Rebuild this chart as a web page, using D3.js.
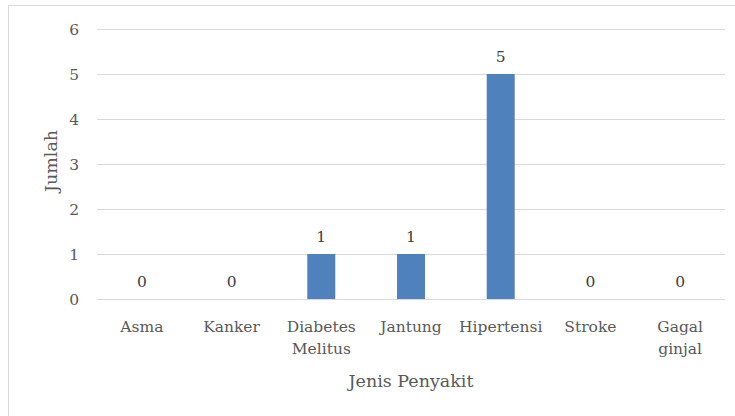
<!DOCTYPE html>
<html><head><meta charset="utf-8">
<script src="https://cdn.jsdelivr.net/npm/d3@7"></script>
<style>body{margin:0;background:#fff}svg{display:block}</style>
</head><body>
<script>
const categories = ["Asma","Kanker","Diabetes Melitus","Jantung","Hipertensi","Stroke","Gagal ginjal"];
const labelLines = [["Asma"],["Kanker"],["Diabetes","Melitus"],["Jantung"],["Hipertensi"],["Stroke"],["Gagal","ginjal"]];
const values = [0,0,1,1,5,0,0];
const yTicks = [0,1,2,3,4,5,6];

const W = 735, H = 416;
const font = "'DejaVu Serif',serif";
const txt = "#595959";
const svg = d3.select("body").append("svg").attr("width",W).attr("height",H);
svg.append("rect").attr("x",8.5).attr("y",5.5).attr("width",W).attr("height",H).attr("fill","#fff").attr("stroke","#d9d9d9");

const x = d3.scaleBand().domain(categories).range([97,725]).paddingInner(0.688).paddingOuter(0.344);
const y = d3.scaleLinear().domain([0,6]).range([299,29]);

const g = svg.append("g");
g.selectAll("line.grid").data(yTicks).join("line")
  .attr("x1",97).attr("x2",725).attr("y1",d=>y(d)+0.5).attr("y2",d=>y(d)+0.5)
  .attr("stroke","#d9d9d9").attr("stroke-width",1);

g.selectAll("text.yt").data(yTicks).join("text")
  .attr("x",79).attr("y",d=>y(d)+6).attr("text-anchor","end")
  .attr("font-family",font).attr("font-size",15.5).attr("fill",txt).text(d=>d);

g.selectAll("rect.bar").data(values).join("rect")
  .attr("x",(d,i)=>x(categories[i])).attr("width",x.bandwidth())
  .attr("y",d=>y(d)).attr("height",d=>y(0)-y(d)).attr("fill","#4f81bd");

g.selectAll("text.dl").data(values).join("text")
  .attr("x",(d,i)=>x(categories[i])+x.bandwidth()/2).attr("y",d=>y(d)-12)
  .attr("text-anchor","middle").attr("font-family",font).attr("font-size",15.5).attr("fill","#404040").text(d=>d);

labelLines.forEach((lines,i)=>{
  const cx = x(categories[i])+x.bandwidth()/2;
  const t = g.append("text").attr("x",cx).attr("y",332)
    .attr("text-anchor","middle").attr("font-family",font).attr("font-size",15.5).attr("fill",txt);
  lines.forEach((l,j)=>t.append("tspan").attr("x",cx).attr("dy",j?22:0).text(l));
});

svg.append("text").attr("x",411).attr("y",387).attr("text-anchor","middle")
  .attr("font-family",font).attr("font-size",17.5).attr("fill",txt).text("Jenis Penyakit");
svg.append("text").attr("transform","translate(57,161) rotate(-90)").attr("text-anchor","middle")
  .attr("font-family",font).attr("font-size",17.5).attr("fill",txt).text("Jumlah");
</script>
</body></html>
